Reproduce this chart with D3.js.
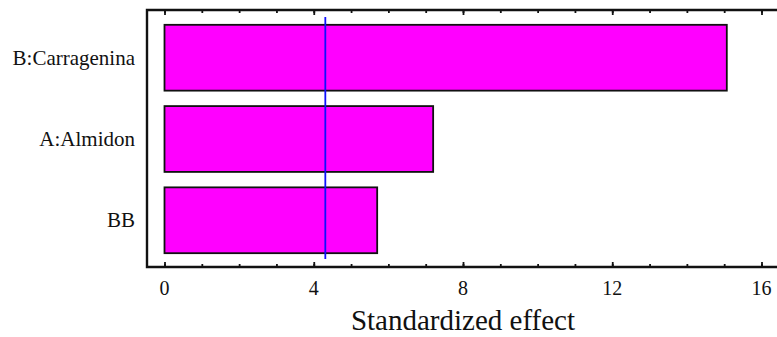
<!DOCTYPE html>
<html>
<head>
<meta charset="utf-8">
<script src="https://cdn.jsdelivr.net/npm/d3@7"></script>
<style>
  html, body { margin: 0; padding: 0; background: #fff; }
  svg { display: block; }
  svg text.lbl { font-family: "Liberation Serif", Tinos, "Times New Roman", serif !important; }
</style>
</head>
<body>
<svg id="chart" width="777" height="337"></svg>
<script>
// Pareto chart of standardized effects
const effects = ["B:Carragenina", "A:Almidon", "BB"];
const effectValues = [15.07, 7.20, 5.70];
const criticalValue = 4.31;
const majorTicks = [0, 4, 8, 12, 16];
const minorTicks = d3.range(0, 17, 1);
const xTitle = "Standardized effect";

const svg = d3.select("#chart");
const frame = { left: 147, right: 777, top: 10, bottom: 267 };

const x = d3.scaleLinear().domain([0, 16]).range([164.5, 761.5]);
const y = d3.scaleBand().domain(effects).range([frame.top + 1, frame.bottom])
  .paddingInner(0.19).paddingOuter(0.17);

// labels go straight into the svg root
function label(txt, px, py, size, anchor) {
  return svg.append("text")
    .attr("class", "lbl")
    .attr("x", px)
    .attr("y", py)
    .attr("text-anchor", anchor)
    .attr("font-size", size)
    .attr("fill", "#111")
    .style("font-family", "\"Liberation Serif\"")
    .text(txt);
}

// bars
svg.append("g").selectAll("rect")
  .data(effects)
  .join("rect")
  .attr("x", x(0))
  .attr("y", d => y(d))
  .attr("width", (d, i) => x(effectValues[i]) - x(0))
  .attr("height", y.bandwidth())
  .attr("fill", "#ff00ff")
  .attr("stroke", "#111")
  .attr("stroke-width", 1.8);

// critical value line
svg.append("line")
  .attr("x1", x(criticalValue)).attr("x2", x(criticalValue))
  .attr("y1", 17).attr("y2", 259)
  .attr("stroke", "#1010ff")
  .attr("stroke-width", 1.8);

// frame lines: left, top, bottom
const axisColor = "#111";
svg.append("path")
  .attr("d", `M${frame.right},${frame.top}H${frame.left}V${frame.bottom}H${frame.right}`)
  .attr("fill", "none")
  .attr("stroke", axisColor)
  .attr("stroke-width", 2.4);

// inward ticks on top and bottom via d3 axes
function tickAxis(gen, yPos, values, size) {
  const g = svg.append("g").attr("transform", `translate(0,${yPos})`)
    .call(gen(x).tickValues(values).tickSize(size).tickFormat(""));
  g.select(".domain").remove();
  g.selectAll(".tick line").attr("stroke", axisColor).attr("stroke-width", 1.8);
  return g;
}
tickAxis(d3.axisBottom, frame.top, minorTicks, 3);
tickAxis(d3.axisBottom, frame.top, majorTicks, 5);
tickAxis(d3.axisTop, frame.bottom, minorTicks, 3);
tickAxis(d3.axisTop, frame.bottom, majorTicks, 5);

// tick labels
majorTicks.forEach(t => label(String(t), x(t), 295, 20, "middle"));

// category labels
effects.forEach(e => label(e, 135, y(e) + y.bandwidth() / 2 + 7, 21, "end"));

// axis title
label(xTitle, 463, 330, 29, "middle");
</script>
</body>
</html>
